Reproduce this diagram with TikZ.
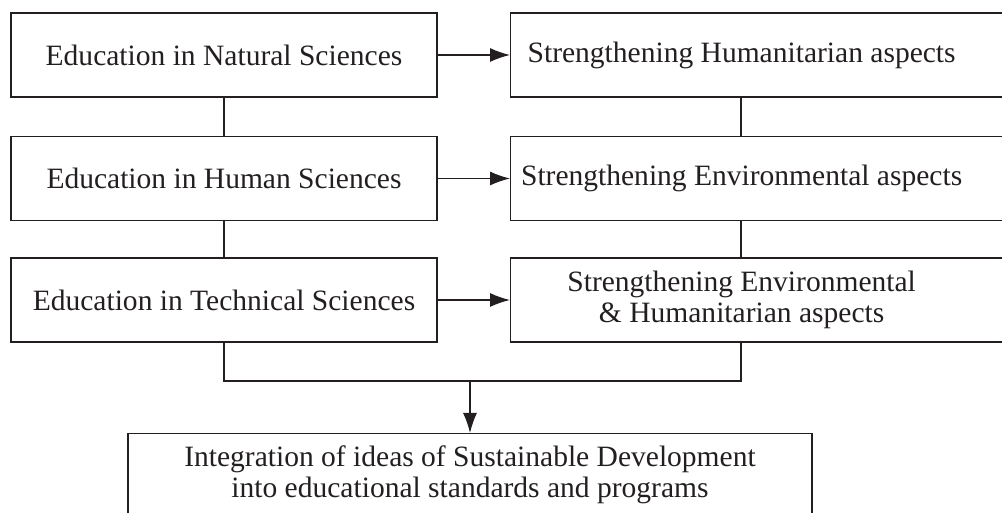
\documentclass[tikz,border=0pt]{standalone}
\usepackage{fontspec}
\setmainfont{Liberation Serif}
\usetikzlibrary{arrows.meta,calc}

\definecolor{ink}{RGB}{35,31,32}
% right hand labels sit in the left part of a wider box
\newcommand{\rightlabel}[1]{\makebox[12.5cm][l]{\parbox{11.55cm}{\centering #1}}}

\begin{document}
\begin{tikzpicture}[ink,line width=0.9pt,
  font=\fontsize{21}{22}\selectfont,
  box/.style={draw,minimum height=2.1cm,inner sep=0pt},
  lbox/.style={box,minimum width=10.65cm},
  rbox/.style={box,anchor=west},
  arr/.style={-{Latex[length=5mm,width=3.5mm]}}]

\useasboundingbox (0,0) rectangle (25.05,12.825);

\begin{scope} % education, left column
  \node[lbox] (natsci) at (5.6,11.45) {Education in Natural Sciences};
  \node[lbox] (humsci) at (5.6,8.3625) {Education in Human Sciences};
  \node[lbox] (techsci) at (5.6,5.325) {Education in Technical Sciences};
\end{scope}

\begin{scope} % strengthening, right column
  \node[rbox] (humasp) at (12.75,11.45)
    {\rightlabel{Strengthening Humanitarian aspects}};
  \node[rbox] (envasp) at (12.75,8.3625)
    {\rightlabel{Strengthening Environmental aspects}};
  \node[rbox] (bothasp) at (12.75,5.325)
    {\rightlabel{Strengthening Environmental\\ \& Humanitarian aspects}};
\end{scope}

\node[draw,anchor=north,minimum width=17.1cm,inner ysep=0.3cm,align=center]
  (integ) at (11.75,2.0)
  {Integration of ideas of Sustainable Development\\
   into educational standards and programs};

\begin{scope} % connectors
  \draw (natsci) -- (humsci);
  \draw (humsci) -- (techsci);
  \draw ($(humasp.south west)+(5.775,0)$) -- ($(envasp.north west)+(5.775,0)$);
  \draw ($(envasp.south west)+(5.775,0)$) -- ($(bothasp.north west)+(5.775,0)$);

  \draw[arr] (natsci) -- (humasp);
  \draw[arr] (humsci) -- (envasp);
  \draw[arr] (techsci) -- (bothasp);

  \coordinate (bothfoot) at ($(bothasp.south west)+(5.775,0)$);
  \coordinate (joint) at (11.75,3.3);
  \draw (techsci.south) |- (joint -| bothfoot) -- (bothfoot);
  \draw[arr] (joint) -- (integ.north);
\end{scope}

\end{tikzpicture}
\end{document}
